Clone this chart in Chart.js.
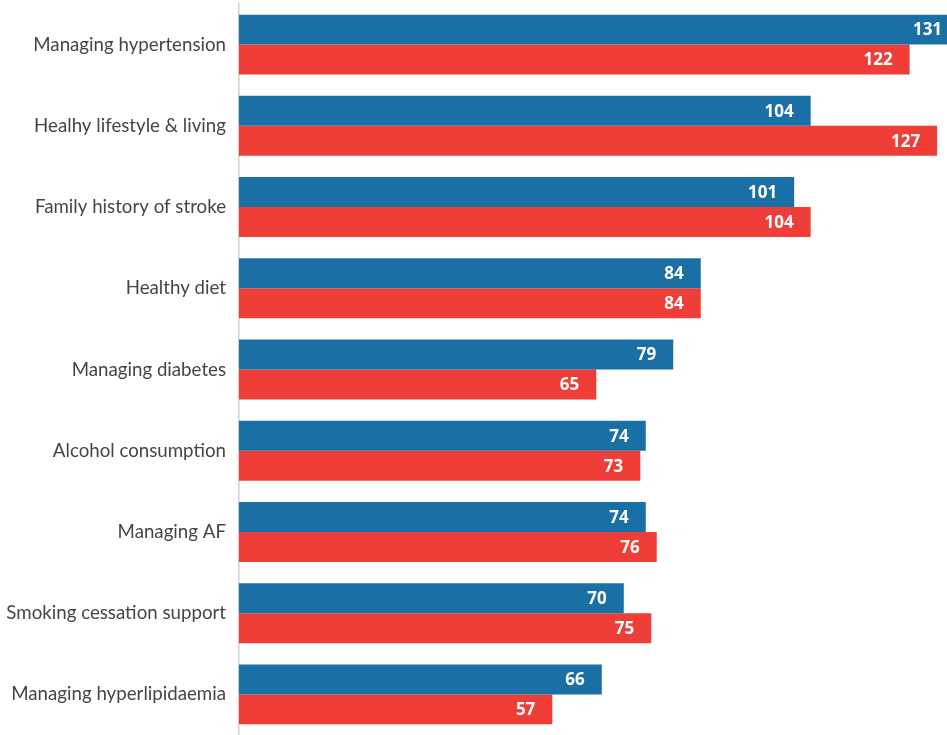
<!DOCTYPE html>
<html>
<head>
<meta charset="utf-8">
<script src="https://cdn.jsdelivr.net/npm/chart.js@4/dist/chart.umd.min.js"></script>
<style>
  html, body { margin: 0; padding: 0; background: #fff; }
  #wrap { width: 947px; height: 735px; position: relative; }
</style>
</head>
<body>
<div id="wrap"><canvas id="chart"></canvas></div>
<script>
// Datos del grafico
const categories = [
    'Managing hypertension',
    'Healhy lifestyle & living',
    'Family history of stroke',
    'Healthy diet',
    'Managing diabetes',
    'Alcohol consumption',
    'Managing AF',
    'Smoking cessation support',
    'Managing hyperlipidaemia'
];
const seriesBlue = [131, 104, 101, 84, 79, 74, 74, 70, 66];
const seriesRed = [122, 127, 104, 84, 65, 73, 76, 75, 57];
const axisMax = 128.8;

const blueColor = '#1a70a4';
const redColor = '#ef3e37';

// etiquetas de valores dentro de las barras
const valueLabels = {
    id: 'valueLabels',
    afterDatasetsDraw(chart) {
        const ctx = chart.ctx;
        ctx.save();
        ctx.font = 'bold 17px "Open Sans"';
        ctx.fillStyle = '#ffffff';
        ctx.textAlign = 'right';
        ctx.textBaseline = 'middle';
        chart.data.datasets.forEach((ds, i) => {
            chart.getDatasetMeta(i).data.forEach((bar, j) => {
                ctx.fillText(ds.data[j], bar.x - 17, bar.y + 1);
            });
        });
        ctx.restore();
    }
};

new Chart(document.getElementById('chart'), {
    type: 'bar',
    data: {
        labels: categories,
        datasets: [
            { data: seriesBlue, backgroundColor: blueColor },
            { data: seriesRed, backgroundColor: redColor }
        ]
    },
    options: {
        indexAxis: 'y',
        responsive: true,
        maintainAspectRatio: false,
        animation: false,
        layout: { padding: { top: 4, right: 0, bottom: 0, left: 0 } },
        datasets: {
            bar: { categoryPercentage: 0.738, barPercentage: 1 }
        },
        plugins: {
            legend: { display: false },
            tooltip: { enabled: false }
        },
        scales: {
            x: {
                display: false,
                min: 0,
                max: axisMax
            },
            y: {
                afterFit(axis) {
                    axis.width = 239;
                    axis.paddingTop = 0;
                    axis.paddingBottom = 0;
                },
                grid: { display: false, drawTicks: false },
                border: { display: true, color: '#d0d0d0', width: 1.5 },
                ticks: {
                    padding: 13,
                    color: '#454545',
                    font: { family: 'Lato', size: 18.7 }
                }
            }
        }
    },
    plugins: [valueLabels]
});
</script>
</body>
</html>
